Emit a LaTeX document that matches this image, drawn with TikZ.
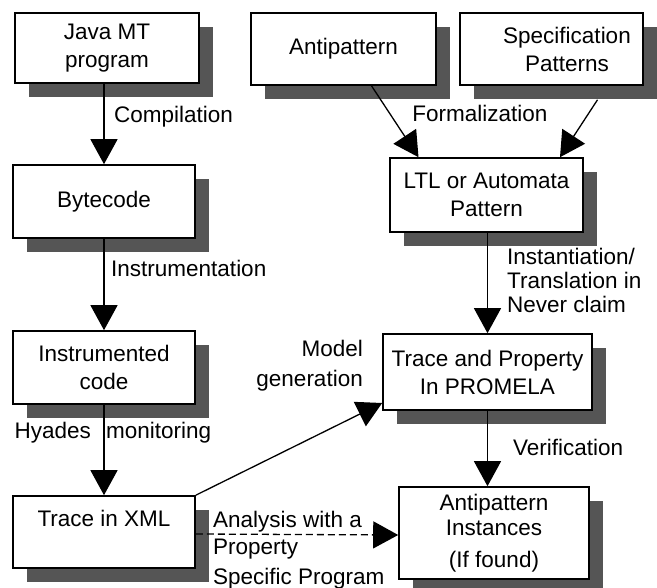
\documentclass[tikz,border=0pt]{standalone}
\usepackage{fontspec}
\setmainfont{Liberation Sans}
\usetikzlibrary{arrows.meta,shadows}
\definecolor{shade}{RGB}{85,85,85}
\begin{document}
\begin{tikzpicture}[x=1pt,y=-1pt,
  font=\fontsize{22.5}{28}\selectfont,
  box/.style={draw=black,line width=1.6pt,fill=white,align=center,inner sep=0pt,
    drop shadow={shadow xshift=14pt,shadow yshift=-14pt,fill=shade,opacity=1}},
  arr/.style={line width=1.3pt,-{Triangle[length=25pt,width=27pt]}},
  lbl/.style={inner sep=0pt,align=left}]
\useasboundingbox (0,0) rectangle (657,588);
% boxes
\node[box,minimum width=184pt,minimum height=70pt] (java) at (107,48) {Java MT\\program};
\node[box,minimum width=182pt,minimum height=73pt] (byte) at (104,201.5) {Bytecode};
\node[box,minimum width=182pt,minimum height=73pt] (instr) at (104,367.5) {Instrumented\\code};
\node[box,minimum width=182pt,minimum height=72pt] (xml) at (104,532) {Trace in XML\\\phantom{X}};
\node[box,minimum width=185pt,minimum height=72pt] (anti) at (343.5,49) {Antipattern};
\node[box,minimum width=183pt,minimum height=72pt] (spec) at (551.5,49) {};
\node[lbl,align=center] (spect) at (567,49) {Specification\\Patterns};
\node[box,minimum width=193pt,minimum height=74pt] (ltl) at (486.5,195) {LTL or Automata\\Pattern};
\node[box,minimum width=209pt,minimum height=76pt] (prom) at (487.5,372) {Trace and Property\\In PROMELA};
\node[box,minimum width=190pt,minimum height=92pt] (inst) at (494,533) {Antipattern\\[-3pt]Instances\\[4pt](If found)};
% connectors
\draw[arr] (byte.north |- java.south) -- (byte.north);
\draw[arr] (byte.south) -- (instr.north);
\draw[arr] (instr.south) -- (xml.north);
\draw[arr] ([xshift=28pt]anti.south) -- ([xshift=-68pt]ltl.north);
\draw[arr] ([xshift=46pt,yshift=-14pt]spec.south) -- ([xshift=73.5pt]ltl.north);
\draw[arr] (prom.north |- ltl.south) -- (prom.north);
\draw[arr] (prom.south) -- (prom.south |- inst.north);
\draw[arr] (xml.north east) -- ([yshift=-31pt]prom.west);
\draw[arr,dash pattern=on 7pt off 4pt] ([yshift=-2pt]xml.east) -- ([yshift=-2pt]inst.west);
% labels
\node[lbl,anchor=west] (lcomp) at (114,117) {Compilation};
\node[lbl,anchor=west] (linstr) at (111,268) {Instrumentation};
\node[lbl,anchor=east] (lhy) at (91,433) {Hyades};
\node[lbl,anchor=west] (lmon) at (106,433) {monitoring};
\node[lbl] (lform) at (480,113) {Formalization};
\node[lbl,anchor=west,font=\fontsize{22.5}{24}\selectfont] (linst) at (507,280) {Instantiation/\\Translation in\\Never claim};
\node[lbl,anchor=west] (lver) at (513,447) {Verification};
\node[lbl,anchor=east,align=right,font=\fontsize{22.5}{30}\selectfont] (lmod) at (363,366) {Model\\generation};
\node[lbl,anchor=west,font=\fontsize{22.5}{27}\selectfont] (lana) at (213,550) {Analysis with a\\Property\\[3pt]Specific Program};
\end{tikzpicture}
\end{document}
